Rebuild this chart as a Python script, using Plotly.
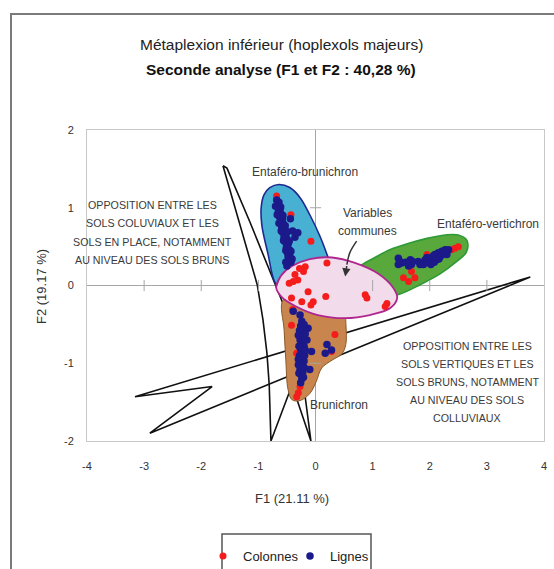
import plotly.graph_objects as go

FONT = "Liberation Sans, Arial, sans-serif"

# ---------------- data ----------------
x_ticks = [-4, -3, -2, -1, 0, 1, 2, 3, 4]
x_tick_text = ["-4", "-3", "-2", "-1", "0", "1", "2", "3", "4"]
y_ticks = [-2, -1, 0, 1, 2]
y_tick_text = ["-2", "-1", "0", "1", "2"]

# Colonnes (red points)
colonnes_f1 = [-0.68, -0.43, -0.08,
               -0.18, -0.21, -0.36, -0.39, -0.46, 0.20, -0.42, -0.24, -0.13, -0.04, -0.08, 0.18,
               0.87, 0.90, 1.25, 1.22, -0.31, -0.28,
               2.44, 2.50, 2.38, 1.54, 1.63, 1.74, 1.68, 1.95,
               -0.42, 0.34, 0.28, -0.33, -0.27, -0.30, -0.33, -0.40]
colonnes_f2 = [1.15, 0.91, 0.57,
               0.24, 0.18, 0.14, 0.05, 0.03, 0.29, -0.16, -0.21, -0.08, -0.21, -0.25, -0.14,
               -0.12, -0.16, -0.23, -0.27, 0.07, 0.22,
               0.48, 0.50, 0.46, 0.10, 0.05, 0.10, 0.18, 0.40,
               -0.51, -0.63, -0.85, -0.87, -1.30, -1.38, -1.43, -0.31]

# Lignes (dark blue points)
lignes_f1 = [-0.68, -0.66, -0.64, -0.62, -0.65, -0.60, -0.63, -0.58, -0.61, -0.56, -0.59, -0.54,
             -0.57, -0.52, -0.55, -0.50, -0.53, -0.48, -0.51, -0.46, -0.49, -0.45, -0.47, -0.43,
             -0.50, -0.40, -0.36, -0.44, -0.31,
             -0.70, -0.61, -0.67, -0.57, -0.64, -0.53, -0.60, -0.49, -0.56, -0.46, -0.52, -0.43,
             -0.48, -0.41, -0.52,
             1.45, 1.51, 1.45, 1.66, 1.68, 1.63, 1.86, 1.92, 1.98, 2.04, 2.09, 2.15, 2.21, 2.27,
             2.33, 2.12, 2.00, 1.89, 2.18, 2.23, 1.80, 2.06,
             1.95, 2.02, 2.08, 2.16, 2.25, 1.83, 1.70, 1.58, 1.48, 2.30,
             -0.39, -0.27, -0.24, -0.26, -0.21, -0.25, -0.22, -0.27, -0.23, -0.20, -0.26, -0.22,
             -0.28, -0.24, -0.20, -0.26, -0.23, -0.27, -0.22, -0.25, -0.24, -0.26, -0.13, -0.15,
             -0.07, -0.10, 0.20, 0.28, 0.17, -0.18, -0.30, -0.19,
             -0.28, -0.19, -0.29, -0.18, -0.30, -0.20, -0.29, -0.21, -0.30, -0.20]
lignes_f2 = [1.10, 1.04, 1.07, 0.98, 0.95, 0.92, 0.88, 0.85, 0.82, 0.79, 0.75, 0.72,
             0.68, 0.66, 0.62, 0.60, 0.56, 0.53, 0.49, 0.46, 0.42, 0.38, 0.33, 0.30,
             0.25, 0.70, 0.62, 0.86, 0.68,
             1.02, 1.01, 0.91, 0.90, 0.80, 0.77, 0.70, 0.69, 0.58, 0.57, 0.45, 0.44,
             0.37, 0.34, 0.30,
             0.35, 0.29, 0.27, 0.33, 0.27, 0.25, 0.29, 0.33, 0.31, 0.35, 0.40, 0.42, 0.44, 0.46,
             0.46, 0.33, 0.29, 0.27, 0.37, 0.40, 0.31, 0.38,
             0.36, 0.27, 0.30, 0.34, 0.42, 0.27, 0.31, 0.30, 0.31, 0.40,
             -0.33, -0.38, -0.46, -0.52, -0.56, -0.61, -0.66, -0.70, -0.74, -0.78, -0.82, -0.86,
             -0.90, -0.94, -0.97, -1.00, -1.04, -1.08, -1.11, -1.15, -1.20, -1.25, -0.55, -0.70,
             -0.85, -1.08, -0.76, -0.83, -0.87, -0.62, -0.95, -0.90,
             -0.58, -0.70, -0.78, -0.83, -1.02, -1.05, -1.13, -1.18, -0.64, -0.50]

# group outlines (in F1/F2 units)
brun_f1 = [-0.57, -0.71, -0.83, -0.94, -0.95, -0.90, -0.80, -0.64, -0.45, -0.27, -0.10, 0.08, 0.22, 0.29,
           0.17, -0.27, -0.57]
brun_f2 = [-0.06, 0.04, 0.40, 0.78, 1.01, 1.17, 1.26, 1.30, 1.26, 1.13, 0.91, 0.63, 0.36, 0.20,
           0.01, -0.08, -0.06]

brunichron_f1 = [-0.57, -0.55, -0.52, -0.48, -0.41, -0.27, -0.10, 0.01, 0.11, 0.29, 0.46, 0.53, 0.53,
                 0.52, 0.25, -0.27, -0.57]
brunichron_f2 = [-0.19, -0.57, -0.96, -1.34, -1.47, -1.48, -1.39, -1.24, -1.06, -0.96, -0.88, -0.76,
                 -0.44, -0.25, -0.12, -0.12, -0.19]

verti_f1 = [0.78, 0.52, 0.78, 1.04, 1.30, 1.62, 1.92, 2.27, 2.50, 2.65, 2.64, 2.44, 2.18, 1.83, 1.48,
            1.13, 0.78, 0.52]
verti_f2 = [-0.13, 0.05, 0.25, 0.36, 0.46, 0.54, 0.60, 0.65, 0.65, 0.58, 0.43, 0.29, 0.15, 0.01, -0.11,
            -0.16, -0.13, 0.05]

communes_f1 = [-0.69, -0.60, -0.41, -0.10, 0.29, 0.69, 1.10, 1.36, 1.43, 1.31, 0.95, 0.52, 0.04,
               -0.34, -0.59, -0.69, -0.60]
communes_f2 = [-0.02, 0.13, 0.25, 0.34, 0.36, 0.29, 0.15, -0.03, -0.16, -0.29, -0.38, -0.42, -0.38,
               -0.27, -0.15, -0.02, 0.13]

# "opposition" bolts
bolt_v_f1 = [-1.62, -1.32, -1.02, -0.92, -0.85, -0.81, -0.78, -0.41, -0.08, -0.31, -0.71, -1.15, -1.55, -1.62]
bolt_v_f2 = [1.54, 0.78, 0.01, -0.44, -0.87, -1.28, -2.00, -1.28, -2.00, -0.70, 0.03, 0.82, 1.51, 1.54]
bolt_h_f1 = [3.76, -3.16, -1.81, -2.90, 3.76]
bolt_h_f2 = [0.11, -1.43, -1.30, -1.90, 0.11]

arrow_f1 = [0.72, 0.60, 0.55]
arrow_f2 = [0.57, 0.42, 0.27]

# ---------------- figure ----------------
fig = go.Figure()

def outline(xs, ys, line_color, fill, width=1.5, spline=True):
    fig.add_trace(go.Scatter(
        x=xs, y=ys, mode="lines", fill="toself" if fill else None,
        fillcolor=fill, line=dict(color=line_color, width=width,
                                  shape="spline" if spline else "linear", smoothing=1),
        showlegend=False, hoverinfo="skip"))

outline(bolt_v_f1, bolt_v_f2, "#111111", None, 1.6, spline=False)
outline(bolt_h_f1, bolt_h_f2, "#111111", None, 1.6, spline=False)
outline(brun_f1, brun_f2, "#1f2a90", "#48b0d2", 1.6)
outline(brunichron_f1, brunichron_f2, "#8a5a2c", "#c8864e", 1.0)
outline(verti_f1, verti_f2, "#2e9a35", "#58a83c", 1.6)
outline(communes_f1, communes_f2, "#b0268f", "#f2dcec", 1.8)

fig.add_trace(go.Scatter(x=arrow_f1, y=arrow_f2, mode="lines",
                         line=dict(color="#333333", width=1.5, shape="spline"),
                         showlegend=False, hoverinfo="skip"))

# tick marks on the axes crossing at zero
fig.add_trace(go.Scatter(x=[v for v in x_ticks if v not in (-4, 0, 4)], y=[0] * 6, mode="markers",
                         marker=dict(symbol="line-ns-open", size=8, color="#a6a6a6",
                                     line=dict(color="#a6a6a6", width=1)),
                         showlegend=False, hoverinfo="skip"))
fig.add_trace(go.Scatter(x=[0, 0], y=[v for v in y_ticks if v in (-1, 1)], mode="markers",
                         marker=dict(symbol="line-ew-open", size=8, color="#a6a6a6",
                                     line=dict(color="#a6a6a6", width=1)),
                         showlegend=False, hoverinfo="skip"))

fig.add_trace(go.Scatter(x=colonnes_f1, y=colonnes_f2, mode="markers", name="Colonnes",
                         marker=dict(color="#f51c1c", size=7)))
fig.add_trace(go.Scatter(x=lignes_f1, y=lignes_f2, mode="markers", name="Lignes",
                         marker=dict(color="#1c1a8a", size=7.5)))

fig.add_annotation(x=0.52, y=0.115, ax=0.55, ay=0.27, xref="x", yref="y", axref="x", ayref="y",
                   text="", showarrow=True, arrowhead=2, arrowsize=1.1, arrowwidth=1.5,
                   arrowcolor="#333333", standoff=0)

# ---------------- texts ----------------
L, R, T, B = 87, 10, 130, 128
W, H = 554, 569
PW, PH = W - L - R, H - T - B

def px(x):
    return (x - L) / PW

def py(y):
    return (H - B - y) / PH

def ptxt(x, y, text, size=12, color="#333333", angle=0, bold=False):
    fig.add_annotation(x=px(x), y=py(y), xref="paper", yref="paper", text=text, showarrow=False,
                       xanchor="center", yanchor="middle", textangle=angle,
                       font=dict(family=FONT, size=size, color=color,
                                 weight="bold" if bold else "normal"))

ptxt(281, 44, "Métaplexion inférieur (hoplexols majeurs)", 15.5, "#222222")
ptxt(281, 70, "Seconde analyse (F1 et F2 : 40,28 %)", 15.5, "#111111", bold=True)
ptxt(292, 498, "F1 (21.11 %)", 13, "#333333")
ptxt(41, 287, "F2 (19.17 %)", 13, "#333333", angle=-90)

ptxt(305, 172, "Entaféro-brunichron", 12, "#3a3a3a")
ptxt(488, 224, "Entaféro-vertichron", 12, "#3a3a3a")
ptxt(367, 213, "Variables", 12, "#3a3a3a")
ptxt(367, 231, "communes", 12, "#3a3a3a")
ptxt(339, 405, "Brunichron", 12, "#3a3a3a")

for i, line in enumerate(["OPPOSITION ENTRE LES", "SOLS COLUVIAUX ET LES",
                          "SOLS EN PLACE, NOTAMMENT", "AU NIVEAU DES SOLS BRUNS"]):
    ptxt(152, 205 + 18.4 * i, line, 10.7, "#3a3a3a")
for i, line in enumerate(["OPPOSITION ENTRE LES", "SOLS VERTIQUES ET LES",
                          "SOLS BRUNS, NOTAMMENT", "AU NIVEAU DES SOLS", "COLLUVIAUX"]):
    ptxt(467, 346 + 18.1 * i, line, 10.7, "#3a3a3a")

# chart frame and legend frame
fig.add_shape(type="rect", xref="paper", yref="paper", x0=px(11), x1=px(620), y0=py(640), y1=py(14),
              line=dict(color="#7a7a7a", width=2), layer="below")
fig.add_shape(type="rect", xref="paper", yref="paper", x0=px(222), x1=px(371), y0=py(600), y1=py(534),
              line=dict(color="#555555", width=1.5), layer="above")

fig.update_layout(
    width=W, height=H, margin=dict(l=L, r=R, t=T, b=B, autoexpand=False),
    paper_bgcolor="white", plot_bgcolor="white",
    font=dict(family=FONT, color="#333333"),
    showlegend=True,
    legend=dict(orientation="h", x=px(203), y=py(541), xanchor="left", yanchor="top",
                font=dict(family=FONT, size=13, color="#222222"), itemwidth=30,
                entrywidth=42, entrywidthmode="pixels",
                bgcolor="rgba(0,0,0,0)"),
    xaxis=dict(range=[-4, 4], tickvals=x_ticks, ticktext=x_tick_text, showgrid=False,
               zeroline=True, zerolinecolor="#a6a6a6", zerolinewidth=1,
               showline=True, mirror=True, linecolor="#c8c8c8", linewidth=1,
               ticks="", ticklabelstandoff=15, tickfont=dict(size=11, color="#333333")),
    yaxis=dict(range=[-2, 2], tickvals=y_ticks, ticktext=y_tick_text, showgrid=False,
               zeroline=True, zerolinecolor="#a6a6a6", zerolinewidth=1,
               showline=True, mirror=True, linecolor="#c8c8c8", linewidth=1,
               ticks="", ticklabelstandoff=10, tickfont=dict(size=11, color="#333333")),
)

fig.write_html("out.html", config={"displayModeBar": False},
               post_script="document.body.style.margin='0';")
